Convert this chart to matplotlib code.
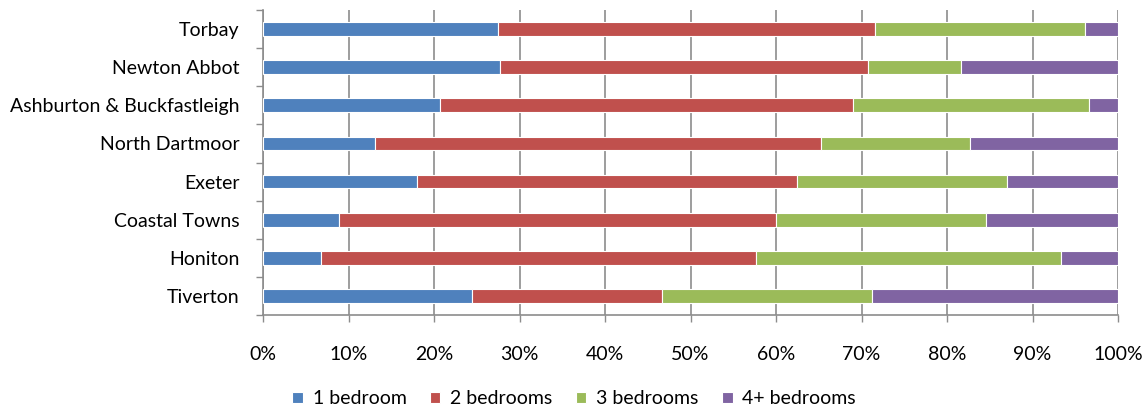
import matplotlib
matplotlib.use("Agg")
import matplotlib.pyplot as plt
import numpy as np
from matplotlib.ticker import FixedLocator, PercentFormatter

plt.rcParams['font.family'] = ['Lato', 'DejaVu Sans']

categories = ["Torbay", "Newton Abbot", "Ashburton & Buckfastleigh", "North Dartmoor",
              "Exeter", "Coastal Towns", "Honiton", "Tiverton"]
one_bed = [27.5, 27.7, 20.7, 13.1, 18.0, 8.9, 6.8, 24.5]
two_bed = [44.1, 43.1, 48.3, 52.2, 44.5, 51.1, 50.9, 22.2]
three_bed = [24.5, 10.8, 27.6, 17.4, 24.5, 24.6, 35.6, 24.5]
four_bed = [3.9, 18.4, 3.4, 17.3, 13.0, 15.4, 6.7, 28.8]
series_names = ["1 bedroom", "2 bedrooms", "3 bedrooms", "4+ bedrooms"]
colors = ["#4F81BD", "#C0504D", "#9BBB59", "#8064A2"]
x_ticks = list(range(0, 101, 10))

fig = plt.figure(figsize=(11.48, 4.12), dpi=100)
ax = fig.add_axes([263/1148, 1-315/412, 855/1148, 305/412])

n = len(categories)
y = np.arange(n)[::-1]
left = np.zeros(n)
for vals, name, c in zip([one_bed, two_bed, three_bed, four_bed], series_names, colors):
    v = np.array(vals)
    ax.barh(y, v, left=left, height=0.36, color=c, edgecolor='white', linewidth=0.8,
            label=name, zorder=3)
    left += v

ax.set_xlim(0, 100)
ax.set_ylim(-0.5, n - 0.5)
ax.set_yticks(y)
ax.set_yticklabels(categories)
ax.yaxis.set_minor_locator(FixedLocator(np.arange(-0.5, n, 1.0)))
ax.tick_params(axis='y', which='major', length=0, pad=17, labelsize=14)
ax.tick_params(axis='y', which='minor', length=5, width=1, color='#8c8c8c')
ax.set_xticks(x_ticks)
ax.xaxis.set_major_formatter(PercentFormatter(decimals=0))
ax.tick_params(axis='x', length=5, width=1, color='#8c8c8c', pad=17, labelsize=14)

ax.grid(axis='x', color='#8c8c8c', linewidth=1.2, zorder=0)
ax.set_axisbelow(True)
for s in ['top', 'right']:
    ax.spines[s].set_visible(False)
for s in ['left', 'bottom']:
    ax.spines[s].set_color('#8c8c8c')
    ax.spines[s].set_linewidth(1.2)

fig.legend(loc='center', bbox_to_anchor=(0.5, 1-399/412), ncol=4, frameon=False,
           fontsize=14, handlelength=0.55, handleheight=0.55, handletextpad=0.5,
           columnspacing=1.2)

fig.savefig("out.png", dpi=100)
